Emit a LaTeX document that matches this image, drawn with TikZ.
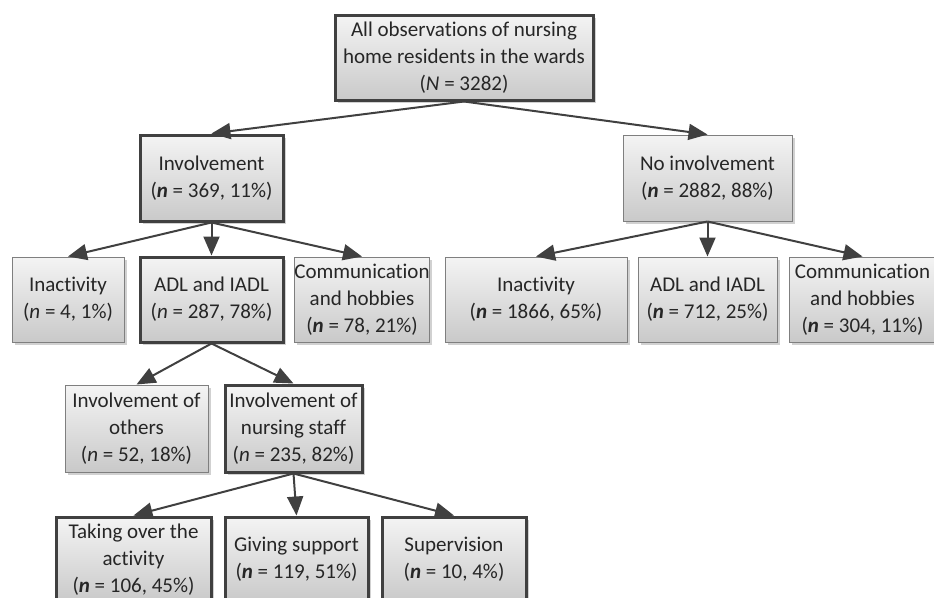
\documentclass[tikz,border=0pt]{standalone}
\usepackage{fontspec}
\setmainfont{Carlito}[Ligatures=NoCommon]
\usetikzlibrary{arrows.meta,shadows}
\definecolor{edgegray}{HTML}{404040}
\definecolor{thingray}{HTML}{7F7F7F}
\definecolor{fillhi}{HTML}{F4F4F4}
\definecolor{filllo}{HTML}{C9C9C9}
\tikzset{
  box/.style={rectangle, inner sep=0pt, align=center, text=black!85,
    top color=fillhi, bottom color=filllo,
    font=\fontsize{21}{27}\selectfont,
    drop shadow={shadow xshift=2.5pt, shadow yshift=-2.5pt, opacity=0.18, fill=black}},
  thinbox/.style={box, draw=thingray, line width=1pt},
  thickbox/.style={box, draw=edgegray, line width=3pt},
  link/.style={draw=edgegray, line width=2pt,
    -{Triangle[length=19pt,width=16pt]}},
}
\newcommand{\nbold}{\textbf{\textit{n}}}
\newcommand{\nital}{\textit{n}}
\begin{document}
\begin{tikzpicture}[x=1pt,y=-1pt]
  \useasboundingbox (0,0) rectangle (934,597);
  \begin{scope}
  \clip (0,0) rectangle (934,597);
  % root
  \node[thickbox, minimum width=258pt, minimum height=85pt] (all) at (464,57.5)
    {All observations of nursing\\home residents in the wards\\(\textit{N} = 3282)};
  % first split
  \node[thickbox, minimum width=143pt, minimum height=86pt] (inv) at (211.5,178)
    {Involvement\\(\nbold{} = 369, 11\%)};
  \node[thinbox, minimum width=169pt, minimum height=86pt] (noinv) at (707.5,178)
    {No involvement\\(\nbold{} = 2882, 88\%)};
  % activities under involvement
  \node[thinbox, minimum width=112pt, minimum height=85pt] (inact1) at (68,299.5)
    {Inactivity\\(\nital{} = 4, 1\%)};
  \node[thickbox, minimum width=143pt, minimum height=85pt] (adl1) at (211.5,299.5)
    {ADL and IADL\\(\nital{} = 287, 78\%)};
  \node[thinbox, minimum width=134pt, minimum height=85pt] (comm1) at (362,299.5)
    {Communication\\and hobbies\\(\nbold{} = 78, 21\%)};
  % activities under no involvement
  \node[thinbox, minimum width=182pt, minimum height=85pt] (inact2) at (536,299.5)
    {Inactivity\\(\nbold{} = 1866, 65\%)};
  \node[thinbox, minimum width=139pt, minimum height=85pt] (adl2) at (707.5,299.5)
    {ADL and IADL\\(\nbold{} = 712, 25\%)};
  \node[thinbox, minimum width=147pt, minimum height=85pt] (comm2) at (862.5,299.5)
    {Communication\\and hobbies\\(\nbold{} = 304, 11\%)};
  % who is involved
  \node[thinbox, minimum width=143pt, minimum height=87pt] (others) at (136.5,428.5)
    {Involvement of\\others\\(\nital{} = 52, 18\%)};
  \node[thickbox, minimum width=137pt, minimum height=87pt] (staff) at (293.5,428.5)
    {Involvement of\\nursing staff\\(\nital{} = 235, 82\%)};
  % kind of staff involvement
  \node[thickbox, minimum width=155pt, minimum height=85pt] (take) at (133.5,559.5)
    {Taking over the\\activity\\(\nbold{} = 106, 45\%)};
  \node[thickbox, minimum width=143pt, minimum height=85pt] (give) at (296.5,559.5)
    {Giving support\\(\nbold{} = 119, 51\%)};
  \node[thickbox, minimum width=144pt, minimum height=85pt] (sup) at (454,559.5)
    {Supervision\\(\nbold{} = 10, 4\%)};
  % connectors
  \draw[link] (all.south) -- (inv.north);
  \draw[link] (all.south) -- (noinv.north);
  \draw[link] (inv.south) -- (inact1.north);
  \draw[link] (inv.south) -- (adl1.north);
  \draw[link] (inv.south) -- (comm1.north);
  \draw[link] (noinv.south) -- (inact2.north);
  \draw[link] (noinv.south) -- (adl2.north);
  \draw[link] (noinv.south) -- (comm2.north);
  \draw[link] (adl1.south) -- (others.north);
  \draw[link] (adl1.south) -- (staff.north);
  \draw[link] (staff.south) -- (take.north);
  \draw[link] (staff.south) -- (give.north);
  \draw[link] (staff.south) -- (sup.north);
  \end{scope}
\end{tikzpicture}
\end{document}
